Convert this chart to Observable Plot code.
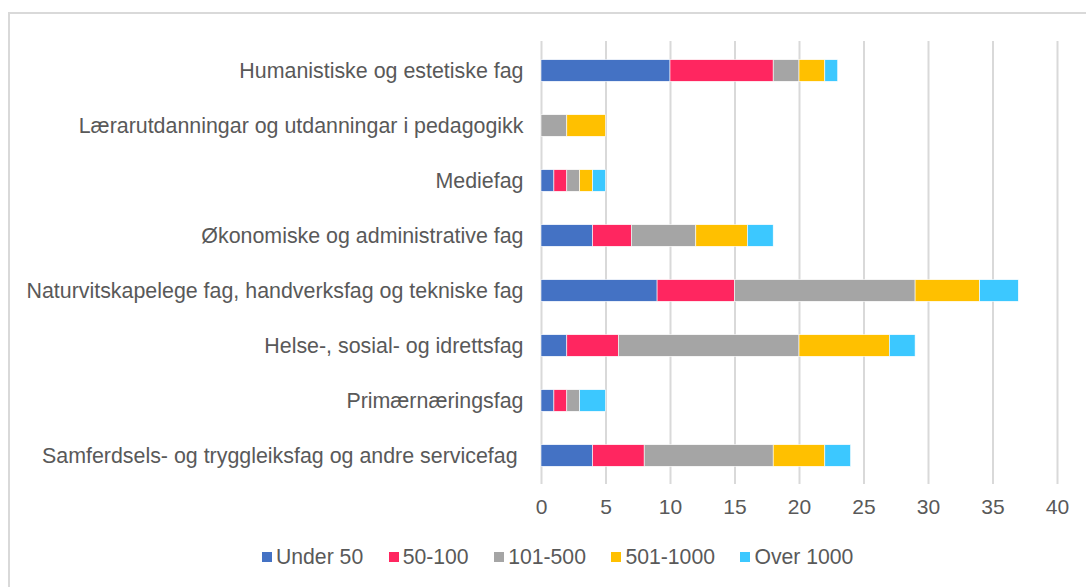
<!DOCTYPE html>
<html>
<head>
<meta charset="utf-8">
<script src="https://cdn.jsdelivr.net/npm/d3@7"></script>
<script src="https://cdn.jsdelivr.net/npm/@observablehq/plot@0.6"></script>
<style>
  html, body { margin: 0; padding: 0; background: #fff; width: 1086px; height: 587px; overflow: hidden; }
  body { position: relative; font-family: "Liberation Sans", Arial, sans-serif; }
  #frame { position: absolute; left: 8px; top: 12px; width: 1100px; height: 600px; border: 2px solid #d9d9d9; box-sizing: border-box; }
  #chart { position: absolute; left: 0; top: 0; }
  #legend { position: absolute; left: 262px; top: 544px; display: flex; gap: 25.5px; font-size: 21.2px; line-height: 26px; color: #595959; white-space: nowrap; }
  #legend .item { display: flex; align-items: center; }
  #legend .sw { width: 10px; height: 10px; margin-right: 4px; }
</style>
</head>
<body>
<div id="frame"></div>
<div id="chart"></div>
<div id="legend"></div>
<script>
const categories = [
  "Humanistiske og estetiske fag",
  "Lærarutdanningar og utdanningar i pedagogikk",
  "Mediefag",
  "Økonomiske og administrative fag",
  "Naturvitskapelege fag, handverksfag og tekniske fag",
  "Helse-, sosial- og idrettsfag",
  "Primærnæringsfag",
  "Samferdsels- og tryggleiksfag og andre servicefag\u00a0"
];
const seriesNames = ["Under 50", "50-100", "101-500", "501-1000", "Over 1000"];
const under50   = [10, 0, 1, 4, 9, 2, 1, 4];
const r50_100   = [ 8, 0, 1, 3, 6, 4, 1, 4];
const r101_500  = [ 2, 2, 1, 5, 14, 14, 1, 10];
const r501_1000 = [ 2, 3, 1, 4, 5, 7, 0, 4];
const over1000  = [ 1, 0, 1, 2, 3, 2, 2, 2];
const xTicks = [0, 5, 10, 15, 20, 25, 30, 35, 40];
const colors = ["#4472C4", "#FF2660", "#A5A5A5", "#FFC000", "#3CC8FF"];

const seriesValues = [under50, r50_100, r101_500, r501_1000, over1000];
const data = [];
categories.forEach((c, i) => {
  seriesNames.forEach((s, j) => {
    const v = seriesValues[j][i];
    if (v > 0) data.push({category: c, series: s, value: v});
  });
});

const chart = Plot.plot({
  width: 1086,
  height: 530,
  marginLeft: 541,
  marginRight: 29,
  marginTop: 41,
  marginBottom: 46,
  style: {fontFamily: '"Liberation Sans", Arial, sans-serif', fontSize: "21.4px", color: "#595959", background: "transparent"},
  x: {domain: [0, 40], label: null},
  y: {domain: categories, padding: 0, label: null},
  color: {domain: seriesNames, range: colors},
  marks: [
    Plot.gridX(xTicks, {stroke: "#d9d9d9", strokeOpacity: 1, strokeWidth: 2}),
    Plot.barX(data, Plot.stackX({x: "value", y: "category", fill: "series", order: seriesNames, stroke: "white", strokeWidth: 0.6, insetTop: 16.7, insetBottom: 16.7})),
    Plot.axisX(xTicks, {tickSize: 0, tickPadding: 15, fontSize: 21, fill: "#595959", label: null}),
    Plot.axisY(categories, {tickSize: 0, tickPadding: 18, fontSize: 21.4, fill: "#595959", label: null})
  ]
});
document.getElementById("chart").appendChild(chart);

const legend = document.getElementById("legend");
seriesNames.forEach((s, j) => {
  const item = document.createElement("div");
  item.className = "item";
  const sw = document.createElement("span");
  sw.className = "sw";
  sw.style.background = colors[j];
  const t = document.createElement("span");
  t.textContent = s;
  item.appendChild(sw);
  item.appendChild(t);
  legend.appendChild(item);
});
</script>
</body>
</html>
